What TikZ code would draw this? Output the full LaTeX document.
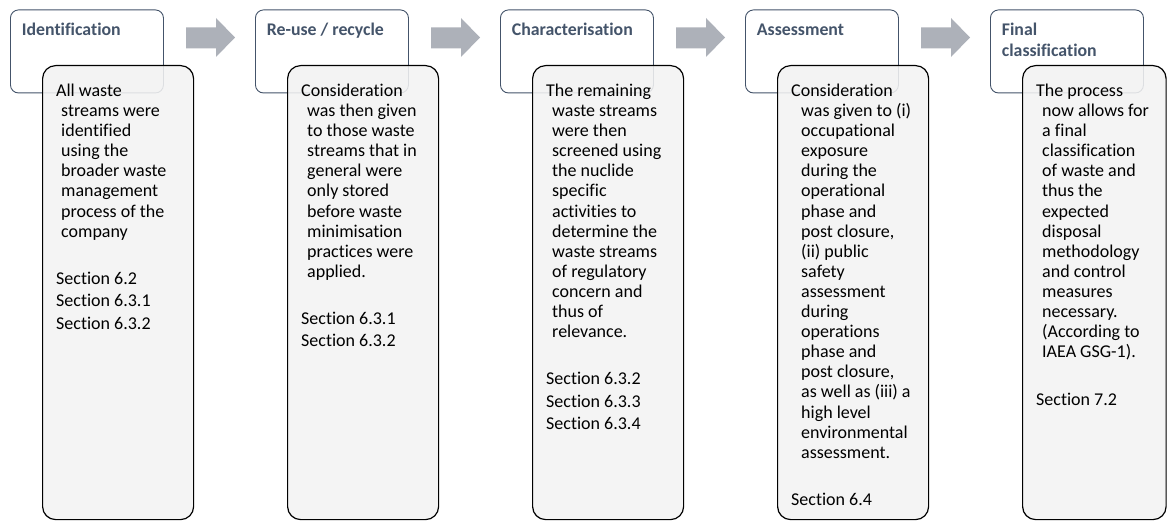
\documentclass[tikz,border=0pt]{standalone}
\usepackage{fontspec}
\setmainfont{Carlito}[Ligatures=NoCommon]
\definecolor{hdr}{HTML}{44546A}
\definecolor{bodyfill}{HTML}{F2F2F2}
\definecolor{arrfill}{HTML}{ADB1B9}
\newlength\contind
\newcommand\Lf[1]{\hbox{#1}}
\newcommand\Lc[1]{\hbox{\kern\contind #1}}
\newcommand\Sgap{\vskip 25pt\baselineskip=22.3pt}
\newcommand\colbody[2]{\vtop{\setlength\contind{#1}\baselineskip=20.1pt\lineskiplimit=-100pt\lineskip=0pt #2}}
\tikzset{
  hdrbox/.style={draw=hdr, line width=0.9pt, fill=white, rounded corners=8pt, inner sep=0pt, anchor=north west, minimum width=153pt, minimum height=83pt},
  bodybox/.style={draw=black, line width=1.2pt, fill=bodyfill, fill opacity=0.88, rounded corners=13pt, inner sep=0pt, anchor=north west, minimum width=151pt, minimum height=454pt},
  hdrtext/.style={anchor=base west, inner sep=0pt, text=hdr, font=\fontsize{17.8pt}{20.5pt}\selectfont\bfseries},
  bodytext/.style={anchor=base west, inner sep=0pt, text=black, font=\fontsize{18pt}{20.1pt}\selectfont},
  arrowshape/.style={fill=arrfill, draw=none}
}
\begin{document}
\begin{tikzpicture}[x=1pt, y=-1pt]
\useasboundingbox (0,0) rectangle (1167,521);
% arrows
\foreach \k in {0,1,2,3}{
  \fill[arrowshape] ({186+245*\k},27.5) -- ({216+245*\k},27.5) -- ({216+245*\k},18) -- ({235+245*\k},37.5)
    -- ({216+245*\k},57) -- ({216+245*\k},48.5) -- ({186+245*\k},48.5) -- cycle;
}
% column 1
\node[hdrbox] (h1) at (10,9.5) {};
\node[bodybox] (b1) at (42,65) {};
\node[hdrtext] (ht1) at (21.7,35.5) {Identification};
\node[bodytext] (bt1) at (56,96.5) {\colbody{5pt}{%
\Lf{All waste}\Lc{streams were}\Lc{identified}\Lc{using the}\Lc{broader waste}\Lc{management}\Lc{process of the}\Lc{company}%
\Sgap\Lf{Section 6.2}\Lf{Section 6.3.1}\Lf{Section 6.3.2}}};
% column 2
\node[hdrbox] (h2) at (255,9.5) {};
\node[bodybox] (b2) at (287,65) {};
\node[hdrtext] (ht2) at (266.7,35.5) {Re-use / recycle};
\node[bodytext] (bt2) at (301,96.5) {\colbody{6pt}{%
\Lf{Consideration}\Lc{was then given}\Lc{to those waste}\Lc{streams that in}\Lc{general were}\Lc{only stored}\Lc{before waste}\Lc{minimisation}\Lc{practices were}\Lc{applied.}%
\Sgap\Lf{Section 6.3.1}\Lf{Section 6.3.2}}};
% column 3
\node[hdrbox] (h3) at (500,9.5) {};
\node[bodybox] (b3) at (532,65) {};
\node[hdrtext] (ht3) at (511.7,35.5) {Characterisation};
\node[bodytext] (bt3) at (546,96.5) {\colbody{6pt}{%
\Lf{The remaining}\Lc{waste streams}\Lc{were then}\Lc{screened using}\Lc{the nuclide}\Lc{specific}\Lc{activities to}\Lc{determine the}\Lc{waste streams}\Lc{of regulatory}\Lc{concern and}\Lc{thus of}\Lc{relevance.}%
\Sgap\Lf{Section 6.3.2}\Lf{Section 6.3.3}\Lf{Section 6.3.4}}};
% column 4
\node[hdrbox] (h4) at (745,9.5) {};
\node[bodybox] (b4) at (777,65) {};
\node[hdrtext] (ht4) at (756.7,35.5) {Assessment};
\node[bodytext] (bt4) at (791,96.5) {\colbody{10pt}{%
\Lf{Consideration}\Lc{was given to (i)}\Lc{occupational}\Lc{exposure}\Lc{during the}\Lc{operational}\Lc{phase and}\Lc{post closure,}\Lc{(ii) public}\Lc{safety}\Lc{assessment}\Lc{during}\Lc{operations}\Lc{phase and}\Lc{post closure,}\Lc{as well as (iii) a}\Lc{high level}\Lc{environmental}\Lc{assessment.}%
\Sgap\Lf{Section 6.4}}};
% column 5
\node[hdrbox] (h5) at (990,9.5) {};
\node[bodybox, minimum width=143.5pt] (b5) at (1022,65) {};
\node[hdrtext] (ht5) at (1001.7,35.5) {\vtop{\baselineskip=21pt\hbox{Final}\hbox{classification}}};
\node[bodytext] (bt5) at (1036,96.5) {\colbody{6pt}{%
\Lf{The process}\Lc{now allows for}\Lc{a final}\Lc{classification}\Lc{of waste and}\Lc{thus the}\Lc{expected}\Lc{disposal}\Lc{methodology}\Lc{and control}\Lc{measures}\Lc{necessary.}\Lc{(According to}\Lc{IAEA GSG-1).}%
\Sgap\Lf{Section 7.2}}};
\end{tikzpicture}
\end{document}
